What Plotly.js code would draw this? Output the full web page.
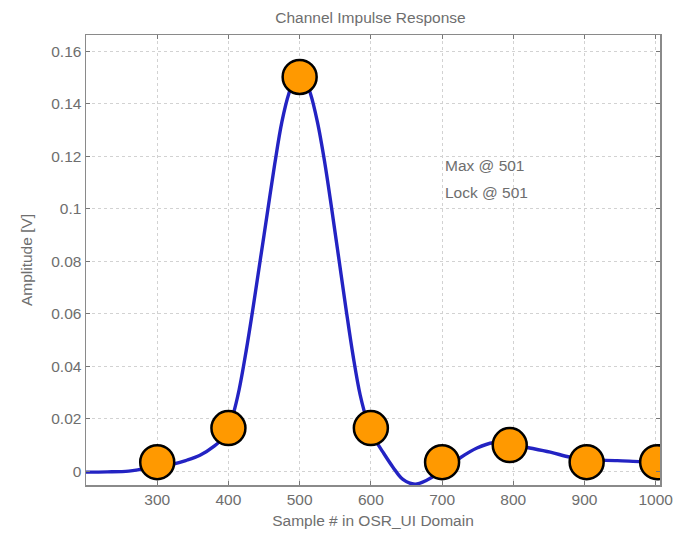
<!DOCTYPE html>
<html>
<head>
<meta charset="utf-8">
<script src="https://cdn.plot.ly/plotly-3.0.1.min.js"></script>
<style>html,body{margin:0;padding:0;background:#fff;}#chart{width:681px;height:535px;}</style>
</head>
<body>
<div id="chart"></div>
<script>
// Impulse response curve (sample #, amplitude V)
const curveX = [200, 230, 260, 280, 300, 320, 340, 360, 380, 392, 400, 407, 415, 425, 435, 445, 455, 465, 475, 485, 493, 500, 507, 515, 525, 535, 545, 555, 565, 575, 585, 595, 605, 617, 631, 645, 662, 679, 695, 710, 725, 749, 772, 796, 820, 852, 880, 905, 946, 980, 1005];
const curveY = [-0.0004, -0.0003, 0.0, 0.0008, 0.0015, 0.0025, 0.004, 0.006, 0.0095, 0.0125, 0.0165, 0.022, 0.031, 0.046, 0.063, 0.081, 0.099, 0.117, 0.133, 0.144, 0.1492, 0.1505, 0.1492, 0.144, 0.133, 0.118, 0.1, 0.081, 0.062, 0.044, 0.029, 0.019, 0.0125, 0.0072, 0.0015, -0.0032, -0.005, -0.0034, -0.0008, 0.002, 0.005, 0.0088, 0.0108, 0.0103, 0.009, 0.0072, 0.0053, 0.0043, 0.004, 0.0036, 0.0035];
// Sampled points (orange markers)
const sampleX = [300, 400, 500, 600, 700, 795, 903, 1002];
const sampleY = [0.0034, 0.0164, 0.1502, 0.0164, 0.0034, 0.0099, 0.0034, 0.0034];
const xTicks = [300, 400, 500, 600, 700, 800, 900, 1000];
const yTicks = [0, 0.02, 0.04, 0.06, 0.08, 0.1, 0.12, 0.14, 0.16];
const yTickText = ["0", "0.02", "0.04", "0.06", "0.08", "0.1", "0.12", "0.14", "0.16"];
const noteLines = ["Max @ 501", "Lock @ 501"];
const noteX = 701;
const noteY = [0.1166, 0.1063];

const font = {family: "Liberation Sans, Arial, sans-serif", size: 15.5, color: "#6e6e6e"};
const traces = [
  {x: curveX, y: curveY, type: "scatter", mode: "lines",
   line: {color: "rgb(35,35,195)", width: 3.4, shape: "spline", smoothing: 1},
   hoverinfo: "skip"},
  {x: sampleX, y: sampleY, type: "scatter", mode: "markers",
   marker: {size: 34, color: "#FF9900", line: {color: "#000", width: 2.5}}}
];
const axisCommon = {
  showline: true, linecolor: "#8a8a8a", linewidth: 1.5, mirror: "allticks",
  ticks: "inside", ticklen: 4, tickcolor: "#777",
  showgrid: true, gridcolor: "#d2d2d2", griddash: "dot", gridwidth: 1,
  zeroline: false, tickfont: font
};
const layout = {
  width: 681, height: 535,
  margin: {l: 86, r: 21, t: 35, b: 50},
  paper_bgcolor: "#fff", plot_bgcolor: "#fff",
  showlegend: false,
  font: font,
  title: {text: "Channel Impulse Response", x: 0.544, xanchor: "center", y: 0.968, yanchor: "middle", font: font},
  xaxis: Object.assign({}, axisCommon, {range: [200, 1006], tickvals: xTicks, automargin: false,
    title: {text: "Sample # in OSR_UI Domain", font: font, standoff: 8}}),
  yaxis: Object.assign({}, axisCommon, {range: [-0.0053, 0.1662], tickvals: yTicks, ticktext: yTickText, automargin: false,
    title: {text: "Amplitude [V]", font: font, standoff: 15}}),
  annotations: noteLines.map((t, i) => ({x: noteX, y: noteY[i], xref: "x", yref: "y", text: t,
    showarrow: false, xanchor: "left", yanchor: "middle", font: font}))
};
Plotly.newPlot("chart", traces, layout, {displayModeBar: false, staticPlot: true});
</script>
</body>
</html>
